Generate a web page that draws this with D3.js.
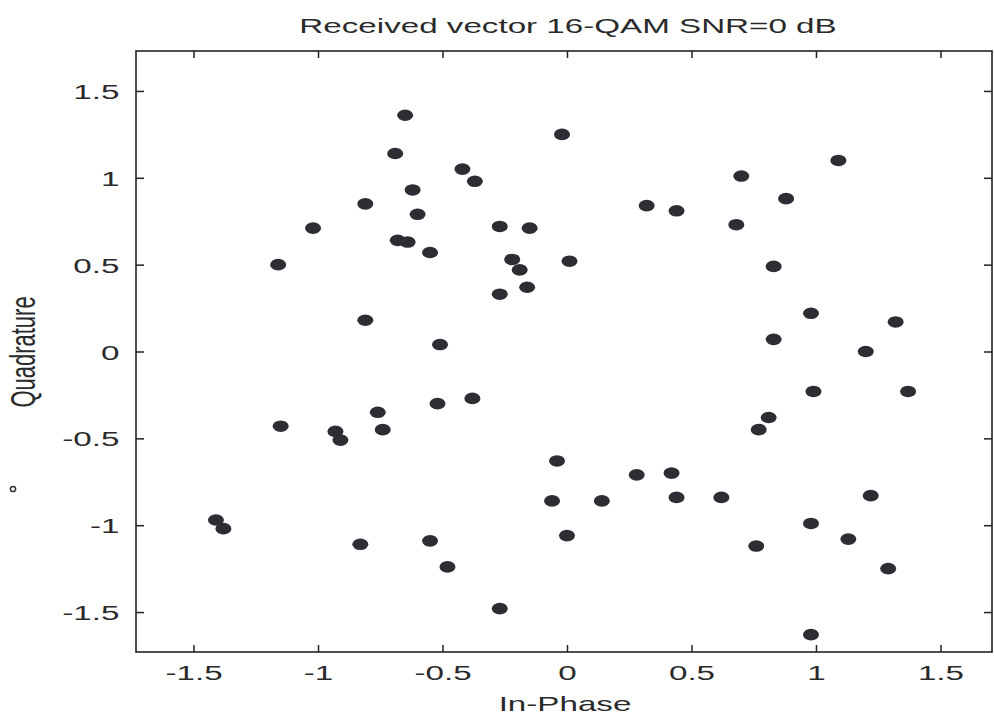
<!DOCTYPE html>
<html>
<head>
<meta charset="utf-8">
<script src="https://cdn.jsdelivr.net/npm/d3@7"></script>
<style>
  html, body { margin: 0; padding: 0; background: #ffffff; }
  svg { display: block; }
  text { font-family: "Liberation Sans", Arial, Helvetica, sans-serif; fill: #2a2a2a; }
</style>
</head>
<body>
<svg id="chart" width="994" height="717"></svg>
<script>
// Received 16-QAM symbols at SNR = 0 dB (in-phase / quadrature components)
const inPhase = [
  -0.65, -0.69, -0.42, -0.37, -0.02, -0.62, -0.81, -0.60, -1.02, -0.68,
  -0.64, -0.55, -0.27, -0.15, -0.22, -0.19, -0.16, -0.27,  0.01, -1.16,
  -0.81, -0.51, -0.38, -0.52, -1.15, -0.76, -0.74, -0.93, -0.91, -1.41,
  -1.38, -0.83, -0.55, -0.48, -0.27, -0.04, -0.06,  0.00,  0.14,  0.28,
   0.42,  0.44,  0.62,  0.76,  0.98,  1.13,  1.22,  1.29,  0.98,  0.98,
   1.32,  0.83,  1.20,  0.99,  1.37,  0.81,  0.77,  1.09,  0.70,  0.88,
   0.32,  0.44,  0.68,  0.83
];
const quadrature = [
   1.36,  1.14,  1.05,  0.98,  1.25,  0.93,  0.85,  0.79,  0.71,  0.64,
   0.63,  0.57,  0.72,  0.71,  0.53,  0.47,  0.37,  0.33,  0.52,  0.50,
   0.18,  0.04, -0.27, -0.30, -0.43, -0.35, -0.45, -0.46, -0.51, -0.97,
  -1.02, -1.11, -1.09, -1.24, -1.48, -0.63, -0.86, -1.06, -0.86, -0.71,
  -0.70, -0.84, -0.84, -1.12, -0.99, -1.08, -0.83, -1.25, -1.63,  0.22,
   0.17,  0.07,  0.00, -0.23, -0.23, -0.38, -0.45,  1.10,  1.01,  0.88,
   0.84,  0.81,  0.73,  0.49
];
const tickValues = [-1.5, -1, -0.5, 0, 0.5, 1, 1.5];
const tickLabels = ["-1.5", "-1", "-0.5", "0", "0.5", "1", "1.5"];
const titleText = "Received vector 16-QAM SNR=0 dB";
const xLabel = "In-Phase";
const yLabel = "Quadrature";

const points = inPhase.map((v, i) => ({ i: v, q: quadrature[i] }));

const svg = d3.select("#chart");
const plotLeft = 136, plotRight = 992, plotTop = 51, plotBottom = 652;
const stretch = 1.58;   // wide glyph rendering
const axisColor = "#222";

const x = d3.scaleLinear().domain([-1.731, 1.707]).range([plotLeft, plotRight]);
const y = d3.scaleLinear().domain([-1.73, 1.73]).range([plotBottom, plotTop]);
const labelOf = d => tickLabels[tickValues.indexOf(d)];

// box
svg.append("rect")
  .attr("x", plotLeft).attr("y", plotTop)
  .attr("width", plotRight - plotLeft).attr("height", plotBottom - plotTop)
  .attr("fill", "#fff").attr("stroke", axisColor).attr("stroke-width", 1.6);

// bottom axis with inward ticks
const gx = svg.append("g").attr("transform", `translate(0,${plotBottom})`)
  .call(d3.axisBottom(x).tickValues(tickValues).tickFormat(labelOf).tickSizeInner(-7).tickSizeOuter(0));
gx.select(".domain").remove();
gx.selectAll("line").attr("stroke", axisColor).attr("stroke-width", 1.5);
gx.selectAll("text")
  .attr("y", 28).attr("dy", 0)
  .attr("font-size", 21)
  .attr("transform", `scale(${stretch},1)`)
  .style("font-family", "'Liberation Sans', Arial, sans-serif")
  .attr("fill", "#2a2a2a");

// top axis ticks
const gt = svg.append("g").attr("transform", `translate(0,${plotTop})`)
  .call(d3.axisTop(x).tickValues(tickValues).tickFormat("").tickSizeInner(-7).tickSizeOuter(0));
gt.select(".domain").remove();
gt.selectAll("line").attr("stroke", axisColor).attr("stroke-width", 1.5);

// left axis with inward ticks
const gy = svg.append("g").attr("transform", `translate(${plotLeft},0)`)
  .call(d3.axisLeft(y).tickValues(tickValues).tickFormat(labelOf).tickSizeInner(-8).tickSizeOuter(0));
gy.select(".domain").remove();
gy.selectAll("line").attr("stroke", axisColor).attr("stroke-width", 1.5);
gy.selectAll("text")
  .attr("x", -10.5).attr("dy", "0.36em")
  .attr("font-size", 21)
  .attr("text-anchor", "end")
  .attr("transform", `scale(${stretch},1)`)
  .style("font-family", "'Liberation Sans', Arial, sans-serif")
  .attr("fill", "#2a2a2a");

// right axis ticks
const gr = svg.append("g").attr("transform", `translate(${plotRight},0)`)
  .call(d3.axisRight(y).tickValues(tickValues).tickFormat("").tickSizeInner(-8).tickSizeOuter(0));
gr.select(".domain").remove();
gr.selectAll("line").attr("stroke", axisColor).attr("stroke-width", 1.5);

// symbols
svg.append("g").selectAll("ellipse")
  .data(points)
  .join("ellipse")
  .attr("cx", d => x(d.i))
  .attr("cy", d => y(d.q))
  .attr("rx", 8)
  .attr("ry", 5.8)
  .attr("fill", "#2c2e34");

// title
svg.append("text")
  .attr("transform", `translate(568,33) scale(${stretch},1)`)
  .attr("text-anchor", "middle")
  .attr("font-size", 21)
  .text(titleText);

// axis labels
svg.append("text")
  .attr("transform", `translate(565,711) scale(${stretch},1)`)
  .attr("text-anchor", "middle")
  .attr("font-size", 21)
  .text(xLabel);

svg.append("text")
  .attr("transform", `translate(35,352) scale(${stretch},1) rotate(-90)`)
  .attr("text-anchor", "middle")
  .attr("font-size", 22)
  .text(yLabel);

// small ring near the lower left margin
svg.append("circle")
  .attr("cx", 13).attr("cy", 489).attr("r", 2.6)
  .attr("fill", "none").attr("stroke", "#333").attr("stroke-width", 1.5);
</script>
</body>
</html>
